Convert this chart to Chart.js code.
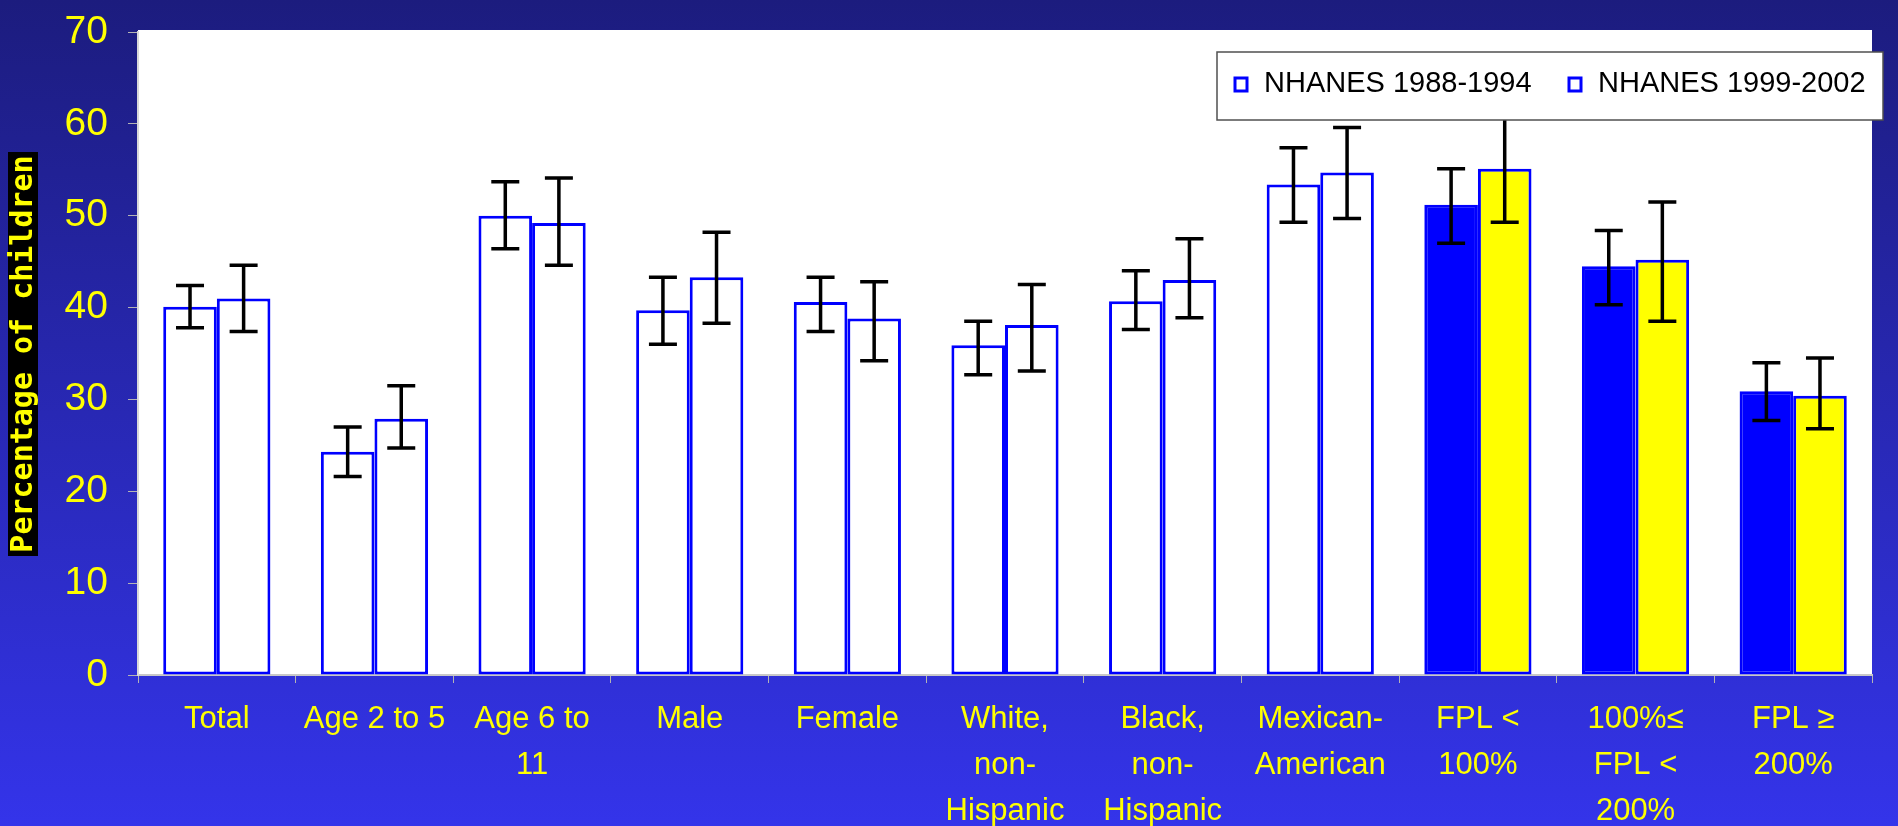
<!DOCTYPE html>
<html>
<head>
<meta charset="UTF-8">
<title>Percentage of children - NHANES</title>
<script src="https://cdn.jsdelivr.net/npm/chart.js@4.4.0/dist/chart.umd.min.js"></script>
<style>
	body { margin: 0; width: 1898px; height: 826px; overflow: hidden;
		background: linear-gradient(#1c1c7e, #3434ea); }
</style>
</head>
<body>

	<canvas id="myChart" width="1898" height="826"></canvas>

	<script>
		// categories (x axis)
		let categories = [
			'Total', 'Age 2 to 5', ['Age 6 to', '11'], 'Male', 'Female',
			['White,', 'non-', 'Hispanic'], ['Black,', 'non-', 'Hispanic'],
			['Mexican-', 'American'], ['FPL <', '100%'], ['100%≤', 'FPL <', '200%'],
			['FPL ≥', '200%']
		];
		let seriesNames = ['NHANES 1988-1994', 'NHANES 1999-2002'];

		// bar heights
		let survey1 = [40.1, 24.3, 50.0, 39.7, 40.6, 35.9, 40.7, 53.4, 51.2, 44.5, 30.9];
		let survey2 = [41.0, 27.9, 49.2, 43.3, 38.8, 38.1, 43.0, 54.7, 55.1, 45.2, 30.4];

		// error bar ends
		let low1  = [37.8, 21.6, 46.4, 36.0, 37.4, 32.7, 37.6, 49.3, 47.0, 40.3, 27.7];
		let high1 = [42.4, 27.0, 53.7, 43.3, 43.3, 38.5, 44.0, 57.4, 55.1, 48.4, 34.0];
		let low2  = [37.4, 24.7, 44.6, 38.3, 34.2, 33.1, 38.9, 49.7, 49.3, 38.5, 26.8];
		let high2 = [44.6, 31.5, 54.1, 48.2, 42.8, 42.5, 47.5, 59.6, 61.0, 51.5, 34.5];

		let yTicks = [0, 10, 20, 30, 40, 50, 60, 70];
	</script>

	<script>
		Chart.defaults.font.family = '"Liberation Sans", Arial, sans-serif';

		// FPL groups (last 3) are filled, the rest are white
		function fills(color) {
			return categories.map(function(c, i) { return i >= 8 ? color : '#ffffff'; });
		}

		// white plot area + y title box
		const backdrop = {
			id: 'backdrop',
			beforeDraw(chart) {
				const ctx = chart.ctx, a = chart.chartArea;
				ctx.save();
				ctx.fillStyle = '#ffffff';
				ctx.fillRect(a.left, a.top - 2, a.right - a.left, a.bottom - a.top + 2);
				// y axis title
				ctx.fillStyle = '#000000';
				ctx.fillRect(8, 152, 30, 404);
				ctx.translate(23, 354);
				ctx.rotate(-Math.PI / 2);
				ctx.fillStyle = '#ffff00';
				ctx.font = 'bold 30px "DejaVu Sans Mono", monospace';
				ctx.textAlign = 'center';
				ctx.textBaseline = 'middle';
				ctx.fillText('Percentage of children', 0, 1);
				ctx.restore();
			}
		};

		const errorBars = {
			id: 'errorBars',
			afterDatasetsDraw(chart) {
				const ctx = chart.ctx, y = chart.scales.y;
				[[low1, high1], [low2, high2]].forEach(function(pair, d) {
					chart.getDatasetMeta(d).data.forEach(function(bar, i) {
						const top = y.getPixelForValue(pair[1][i]);
						const bot = y.getPixelForValue(pair[0][i]);
						ctx.save();
						ctx.strokeStyle = '#000000';
						ctx.lineWidth = 3.5;
						ctx.beginPath();
						ctx.moveTo(bar.x, top); ctx.lineTo(bar.x, bot);
						ctx.moveTo(bar.x - 14, top); ctx.lineTo(bar.x + 14, top);
						ctx.moveTo(bar.x - 14, bot); ctx.lineTo(bar.x + 14, bot);
						ctx.stroke();
						ctx.restore();
					});
				});
			}
		};

		// legend sits over the bars, so draw it last
		const boxLegend = {
			id: 'boxLegend',
			afterDraw(chart) {
				const ctx = chart.ctx;
				ctx.save();
				ctx.fillStyle = '#ffffff';
				ctx.strokeStyle = '#505050';
				ctx.lineWidth = 1.5;
				ctx.fillRect(1217, 52, 666, 68);
				ctx.strokeRect(1217, 52, 666, 68);
				ctx.font = '29px "Liberation Sans", Arial, sans-serif';
				ctx.textBaseline = 'middle';
				const xs = [1235, 1569];
				seriesNames.forEach(function(name, i) {
					ctx.strokeStyle = '#0000ff';
					ctx.lineWidth = 3;
					ctx.fillStyle = '#ffffff';
					ctx.fillRect(xs[i], 78, 12, 13);
					ctx.strokeRect(xs[i], 78, 12, 13);
					ctx.fillStyle = '#000000';
					ctx.fillText(name, xs[i] + 29, 84);
				});
				ctx.restore();
			}
		};

		new Chart('myChart', {
			type: 'bar',
			data: {
				labels: categories,
				datasets: [{
					label: seriesNames[0],
					data: survey1,
					backgroundColor: fills('#0000ff'),
					borderColor: '#0000ff',
					borderWidth: 3,
					borderSkipped: false
				}, {
					label: seriesNames[1],
					data: survey2,
					backgroundColor: fills('#ffff00'),
					borderColor: '#0000ff',
					borderWidth: 3,
					borderSkipped: false
				}]
			},
			options: {
				responsive: false,
				animation: false,
				layout: { padding: { top: 32, right: 26, left: 0, bottom: 0 } },
				datasets: { bar: { categoryPercentage: 0.68, barPercentage: 1 } },
				plugins: { legend: { display: false }, tooltip: { enabled: false } },
				scales: {
					x: {
						grid: { drawOnChartArea: false, tickLength: 8, color: '#b4b4b4' },
						border: { color: '#c8c8c8', width: 2 },
						ticks: { color: '#ffff00', font: { size: 31, lineHeight: '46px' },
							padding: 13, maxRotation: 0, autoSkip: false },
						afterFit: function(s) { s.height = 151; }
					},
					y: {
						min: 0, max: 70,
						afterBuildTicks: function(s) { s.ticks = yTicks.map(function(v) { return { value: v }; }); },
						ticks: { color: '#ffff00', font: { size: 39 }, padding: 20 },
						grid: { drawOnChartArea: false, tickLength: 10, color: '#b4b4b4' },
						border: { color: '#d8d8d8', width: 2 },
						afterFit: function(s) { s.width = 138; s.paddingTop = 0; s.paddingBottom = 0; }
					}
				}
			},
			plugins: [backdrop, errorBars, boxLegend]
		});
	</script>
</body>
</html>
